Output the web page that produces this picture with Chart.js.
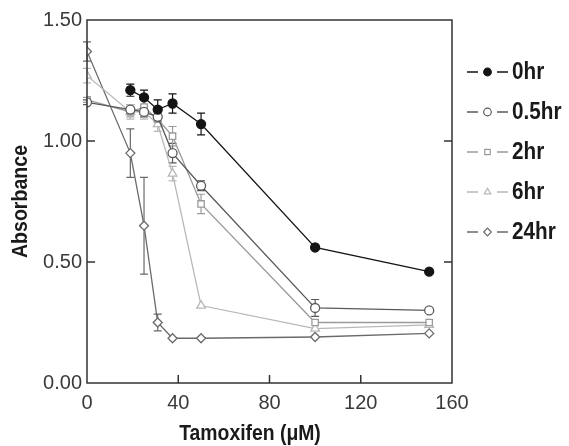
<!DOCTYPE html>
<html>
<head>
<meta charset="utf-8">
<script src="https://cdn.jsdelivr.net/npm/chart.js@4/dist/chart.umd.min.js"></script>
<style>
  html, body { margin: 0; padding: 0; background: #fff; }
  #wrap { width: 569px; height: 446px; }
</style>
</head>
<body>
<div id="wrap"><canvas id="c" width="569" height="446"></canvas></div>
<script>
'use strict';

// tamoxifen concentration (µM)
const conc = [0, 19, 25, 31, 37.5, 50, 100, 150];

const seriesNames = ['0hr', '0.5hr', '2hr', '6hr', '24hr'];

const h0 = [null, 1.21, 1.18, 1.13, 1.155, 1.07, 0.56, 0.46];
const h0Err = [0, 0.025, 0.03, 0.04, 0.04, 0.045, 0, 0];

const h05 = [1.16, 1.13, 1.12, 1.10, 0.95, 0.815, 0.31, 0.30];
const h05Err = [0.01, 0.02, 0.02, 0.02, 0.04, 0.02, 0.035, 0];

const h2 = [1.17, 1.12, 1.14, 1.09, 1.02, 0.74, 0.25, 0.25];
const h2Err = [0.01, 0.02, 0.04, 0.03, 0.04, 0.04, 0, 0];

const h6 = [1.27, 1.12, 1.12, 1.07, 0.865, 0.32, 0.225, 0.24];
const h6Err = [0.03, 0.03, 0.03, 0.03, 0.03, 0, 0, 0];

const h24 = [1.37, 0.95, 0.65, 0.25, 0.185, 0.185, 0.19, 0.205];
const h24Err = [0.04, 0.1, 0.2, 0.035, 0, 0, 0, 0];

const xTicks = [0, 40, 80, 120, 160];
const yTicks = [0, 0.5, 1.0, 1.5];

const xTitle = 'Tamoxifen (\u03BCM)';
const yTitle = 'Absorbance';

const BOLD = "'Liberation Sans', Arial, sans-serif";
const PLAIN = "'Liberation Sans', Arial, sans-serif";

const toPoints = (vals) => conc.map((x, i) => ({ x, y: vals[i] }));

function series(label, vals, errs, color, style, filled, radius) {
  return {
    label,
    data: toPoints(vals),
    errors: errs,
    borderColor: color,
    borderWidth: 1.3,
    pointStyle: style,
    pointRadius: radius,
    pointHoverRadius: radius,
    pointBorderWidth: 1.3,
    pointBorderColor: color,
    pointBackgroundColor: filled ? color : '#fff',
    spanGaps: false,
    tension: 0,
  };
}

const datasets = [
  series(seriesNames[0], h0, h0Err, '#141414', 'circle', true, 4.5),
  series(seriesNames[1], h05, h05Err, '#595959', 'circle', false, 4.5),
  series(seriesNames[2], h2, h2Err, '#9a9a9a', 'rect', false, 4.5),
  series(seriesNames[3], h6, h6Err, '#b8b8b8', 'triangle', false, 5),
  series(seriesNames[4], h24, h24Err, '#6a6a6a', 'rectRot', false, 4.5),
];

// bold condensed-looking text: squeeze horizontally
function narrowText(ctx, text, x, y, size, sx, align, rot) {
  ctx.save();
  ctx.translate(x, y);
  if (rot) ctx.rotate(rot);
  ctx.scale(sx, 1);
  ctx.font = 'bold ' + size + 'px ' + BOLD;
  ctx.fillStyle = '#1a1a1a';
  ctx.textAlign = align;
  ctx.textBaseline = 'middle';
  ctx.fillText(text, 0, 0);
  ctx.restore();
}

// error bars with caps, under the markers
const errorBars = {
  id: 'errorBars',
  beforeDatasetsDraw(chart) {
    const { ctx } = chart;
    const ys = chart.scales.y;
    chart.data.datasets.forEach((ds, di) => {
      const meta = chart.getDatasetMeta(di);
      ctx.save();
      ctx.strokeStyle = ds.borderColor;
      ctx.lineWidth = 1.2;
      meta.data.forEach((pt, i) => {
        const e = ds.errors[i];
        const v = ds.data[i].y;
        if (!e || v == null) return;
        const top = ys.getPixelForValue(v + e);
        const bot = ys.getPixelForValue(v - e);
        const x = pt.x;
        ctx.beginPath();
        ctx.moveTo(x, top); ctx.lineTo(x, bot);
        ctx.moveTo(x - 4, top); ctx.lineTo(x + 4, top);
        ctx.moveTo(x - 4, bot); ctx.lineTo(x + 4, bot);
        ctx.stroke();
      });
      ctx.restore();
    });
  },
};

// frame, inward tick marks and axis titles
const frame = {
  id: 'frame',
  afterDatasetsDraw(chart) {
    const { ctx, chartArea: a } = chart;
    const xs = chart.scales.x, ys = chart.scales.y;
    ctx.save();
    ctx.strokeStyle = '#333';
    ctx.lineWidth = 1.5;
    ctx.strokeRect(a.left, a.top, a.right - a.left, a.bottom - a.top);
    ctx.beginPath();
    xTicks.slice(1, -1).forEach((t) => {
      const px = xs.getPixelForValue(t);
      ctx.moveTo(px, a.bottom); ctx.lineTo(px, a.bottom - 8);
    });
    yTicks.slice(1, -1).forEach((t) => {
      const py = ys.getPixelForValue(t);
      ctx.moveTo(a.left, py); ctx.lineTo(a.left + 8, py);
      ctx.moveTo(a.right, py); ctx.lineTo(a.right - 8, py);
    });
    ctx.stroke();
    ctx.restore();

    narrowText(ctx, xTitle, 250, 434, 22, 0.88, 'center', 0);
    narrowText(ctx, yTitle, 21, (a.top + a.bottom) / 2, 22, 0.89, 'center', -Math.PI / 2);
  },
};

// legend: line – marker – line, label
const sideLegend = {
  id: 'sideLegend',
  afterDraw(chart) {
    const { ctx } = chart;
    const x0 = 467, rowTop = 72, rowGap = 40;
    chart.data.datasets.forEach((ds, i) => {
      const y = rowTop + i * rowGap;
      ctx.save();
      ctx.strokeStyle = ds.borderColor;
      ctx.lineWidth = 1.4;
      ctx.beginPath();
      ctx.moveTo(x0, y); ctx.lineTo(x0 + 11, y);
      ctx.moveTo(x0 + 30, y); ctx.lineTo(x0 + 41, y);
      ctx.stroke();
      ctx.lineWidth = 1.2;
      ctx.fillStyle = ds.pointBackgroundColor;
      Chart.helpers.drawPoint(ctx, {
        pointStyle: ds.pointStyle, radius: 3.8, rotation: 0, borderWidth: 1.2,
      }, x0 + 20.5, y);
      ctx.restore();
      narrowText(ctx, ds.label, x0 + 45, y + 1, 23, 0.9, 'left', 0);
    });
  },
};

new Chart(document.getElementById('c'), {
  type: 'line',
  data: { datasets },
  options: {
    responsive: false,
    animation: false,
    layout: { padding: { top: 20, right: 117, left: 0, bottom: 0 } },
    plugins: {
      legend: { display: false },
      tooltip: { enabled: false },
    },
    scales: {
      x: {
        type: 'linear',
        min: 0,
        max: 160,
        afterBuildTicks: (s) => { s.ticks = xTicks.map((v) => ({ value: v })); },
        afterFit: (s) => { s.height = 63; },
        grid: { display: false, drawTicks: false },
        border: { display: false },
        ticks: {
          padding: 8,
          color: '#3a3a3a',
          font: { family: PLAIN, size: 20 },
          maxRotation: 0,
          callback: (v) => String(v),
        },
      },
      y: {
        min: 0,
        max: 1.5,
        afterBuildTicks: (s) => { s.ticks = yTicks.map((v) => ({ value: v })); },
        afterFit: (s) => { s.width = 87; },
        grid: { display: false, drawTicks: false },
        border: { display: false },
        ticks: {
          padding: 5,
          color: '#3a3a3a',
          font: { family: PLAIN, size: 20 },
          callback: (v) => Number(v).toFixed(2),
        },
      },
    },
  },
  plugins: [errorBars, frame, sideLegend],
});
</script>
</body>
</html>
